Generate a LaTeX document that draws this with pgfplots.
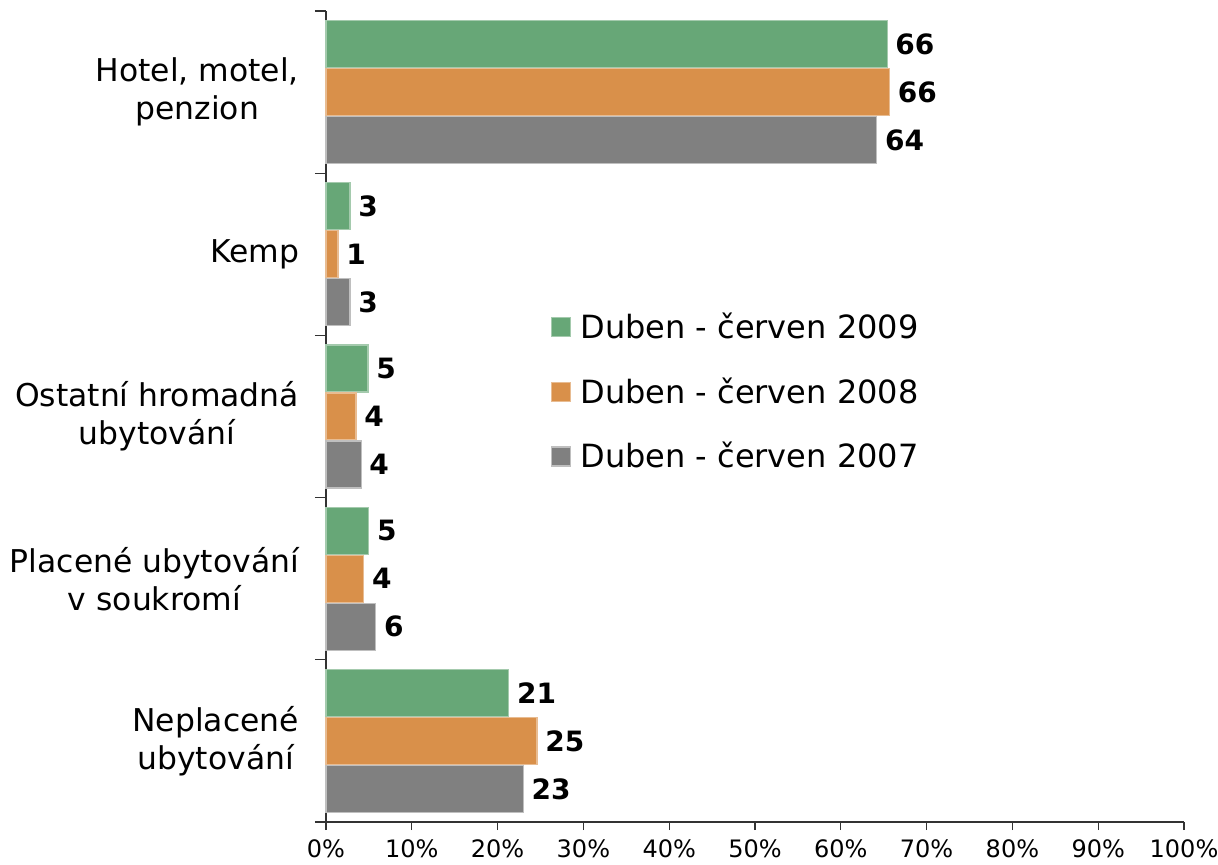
\documentclass[border=0pt]{standalone}
\usepackage{pgfplots}
\pgfplotsset{compat=1.18}
\usepackage{pgfplotstable}
\usepackage{fontspec}
\setmainfont{DejaVu Sans}
\definecolor{cgreen}{RGB}{103,167,119}
\definecolor{corange}{RGB}{217,144,74}
\definecolor{cgray}{RGB}{128,128,128}

\pgfplotstableread{
y x lab
4 65.4 66
3 2.8 3
2 4.9 5
1 5.0 5
0 21.3 21
}\dA
\pgfplotstableread{
y x lab
4 65.7 66
3 1.4 1
2 3.5 4
1 4.4 4
0 24.6 25
}\dB
\pgfplotstableread{
y x lab
4 64.2 64
3 2.8 3
2 4.1 4
1 5.8 6
0 23.0 23
}\dC

\begin{document}
\begin{tikzpicture}
\begin{axis}[
  scale only axis,
  width=429pt, height=405.5pt,
  xbar, bar width=23.5pt,
  xmin=0, xmax=100,
  ymin=-0.5, ymax=4.5,
  axis x line*=bottom, axis y line*=left,
  axis line style={-, black!80, line width=0.6pt},
  tick align=outside,
  major tick length=4pt,
  minor tick length=5.5pt,
  xtick={0,10,...,100},
  xticklabel={\pgfmathprintnumber{\tick}\%},
  xticklabel style={font=\fontsize{12}{14}\selectfont, yshift=-1.5pt},
  /pgf/number format/assume math mode=true,
  ytick={0,1,2,3,4},
  yticklabels={{Neplacené\\ubytování},{Placené ubytování\\v soukromí},{Ostatní hromadná\\ubytování},{Kemp},{Hotel, motel,\\penzion}},
  yticklabel style={font=\fontsize{15.7}{19}\selectfont, align=center, xshift=-6pt},
  major y tick style={draw=none},
  minor ytick={-0.5,0.5,...,4.5},
  tick style={black!80, line width=0.6pt},
  point meta=explicit symbolic,
  nodes near coords,
  nodes near coords style={font=\bfseries\fontsize{14}{14}\selectfont, anchor=west, xshift=0.5pt, text=black},
  legend style={draw=none, fill=none, at={(rel axis cs:0.262,0.633)}, anchor=north west,
    font=\fontsize{16}{18}\selectfont, row sep=14pt, inner sep=0pt,
    /tikz/every odd column/.append style={column sep=2.5pt}},
  legend cell align=left,
  legend image code/.code={\fill[#1] (0pt,-4.75pt) rectangle (9.5pt,4.75pt);},
  clip=false,
]
\addplot[fill=cgreen, draw=cgreen!60!white, line width=0.6pt, bar shift=24pt] table[x=x,y=y,meta=lab] {\dA};
\addplot[fill=corange, draw=corange!60!white, line width=0.6pt, bar shift=0pt] table[x=x,y=y,meta=lab] {\dB};
\addplot[fill=cgray, draw=cgray!50!white, line width=0.6pt, bar shift=-24pt] table[x=x,y=y,meta=lab] {\dC};
\legend{Duben - červen 2009, Duben - červen 2008, Duben - červen 2007}
\end{axis}
\pgfresetboundingbox
\path[use as bounding box] (current axis.south west) ++(-163pt,-21pt) rectangle ++(609pt,432pt);
\end{tikzpicture}
\end{document}
